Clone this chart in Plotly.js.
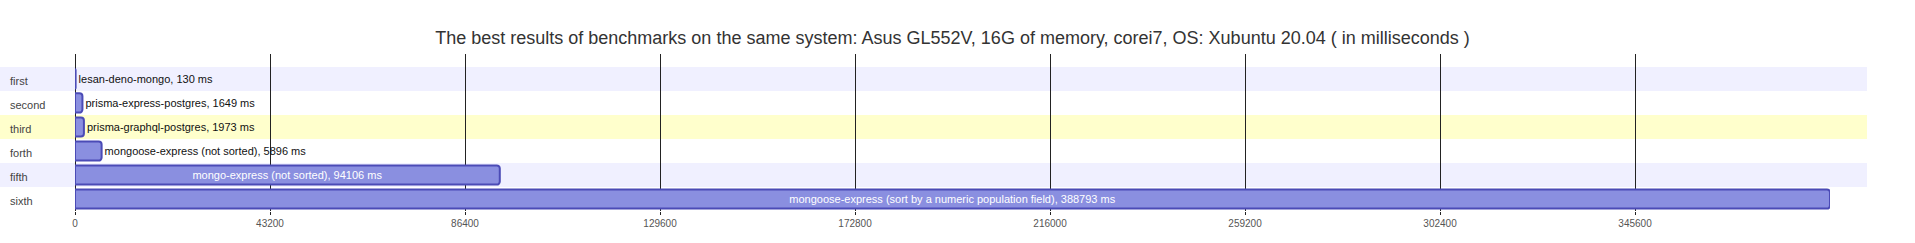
<!DOCTYPE html>
<html>
<head>
<meta charset="utf-8">
<script src="https://cdn.plot.ly/plotly-3.0.1.min.js"></script>
<style>html,body{margin:0;padding:0;background:#fff;}#chart{width:1915px;height:243px;}</style>
</head>
<body>
<div id="chart"></div>
<script>
var categories = ["first", "second", "third", "forth", "fifth", "sixth"];
var names = [
  "lesan-deno-mongo",
  "prisma-express-postgres",
  "prisma-graphql-postgres",
  "mongoose-express (not sorted)",
  "mongo-express (not sorted)",
  "mongoose-express (sort by a numeric population field)"
];
var values = [130, 1649, 1973, 5896, 94106, 388793];
var rowColors = ["#f0f0ff", null, "#ffffcc", null, "#f0f0ff", null];
var tickStep = 43200;
var xMax = 388795;

var tickVals = [];
for (var k = 0; k * tickStep <= xMax; k++) { tickVals.push(k * tickStep); }

var W = 1915, H = 243;
var margin = {l: 75, r: 85, t: 54, b: 32, pad: 0};
var plotW = W - margin.l - margin.r;
var stripeRight = 1867;

var texts = names.map(function (n, i) { return n + ", " + values[i] + " ms"; });

var trace = {
  type: "bar",
  orientation: "h",
  x: values,
  y: categories,
  text: texts,
  textposition: "auto",
  textangle: 0,
  constraintext: "none",
  insidetextanchor: "middle",
  cliponaxis: false,
  textfont: {family: "Liberation Sans, Arial, sans-serif", size: 11},
  insidetextfont: {color: "#ffffff", family: "Liberation Sans, Arial, sans-serif", size: 11},
  outsidetextfont: {color: "#111111", family: "Liberation Sans, Arial, sans-serif", size: 11},
  marker: {color: "#8a8fe0", line: {color: "#4b4bb6", width: 2}, cornerradius: 3},
  hoverinfo: "none"
};

var shapes = [];
var annotations = [];
categories.forEach(function (c, i) {
  if (rowColors[i]) {
    shapes.push({
      type: "rect", layer: "below", xref: "paper", yref: "y",
      x0: -margin.l / plotW, x1: (stripeRight - margin.l) / plotW, y0: i - 0.5, y1: i + 0.5,
      fillcolor: rowColors[i], line: {width: 0}
    });
  }
  annotations.push({
    xref: "paper", yref: "y", x: (8 - margin.l) / plotW, y: i,
    xanchor: "left", yanchor: "middle", yshift: -2, showarrow: false,
    text: c, font: {family: "Liberation Sans, Arial, sans-serif", size: 11, color: "#444"}
  });
});

var layout = {
  width: W, height: H,
  margin: margin,
  paper_bgcolor: "#ffffff",
  plot_bgcolor: "rgba(0,0,0,0)",
  font: {family: "Liberation Sans, Arial, sans-serif", color: "#444", size: 11},
  title: {
    text: "The best results of benchmarks on the same system: Asus GL552V, 16G of memory, corei7, OS: Xubuntu 20.04 ( in milliseconds )",
    font: {family: "Liberation Sans, Arial, sans-serif", size: 18, color: "#333"},
    x: 0.5, xref: "paper", y: 1 - 38 / H, yref: "container", yanchor: "middle"
  },
  showlegend: false,
  bargap: 0.2,
  xaxis: {
    range: [0, xMax],
    tickmode: "array", tickvals: tickVals, ticktext: tickVals.map(String),
    showgrid: true, gridcolor: "#222", gridwidth: 1,
    zeroline: true, zerolinecolor: "#222", zerolinewidth: 1,
    showline: false,
    ticks: "outside", ticklen: 3, tickcolor: "#222",
    tickfont: {size: 10, color: "#555"},
    fixedrange: true
  },
  yaxis: {
    type: "category",
    range: [5.5, -1.04],
    showgrid: false, zeroline: false, showline: false,
    showticklabels: false, ticks: "",
    fixedrange: true
  },
  shapes: shapes,
  annotations: annotations
};

Plotly.newPlot("chart", [trace], layout, {displayModeBar: false, staticPlot: true});
</script>
</body>
</html>
